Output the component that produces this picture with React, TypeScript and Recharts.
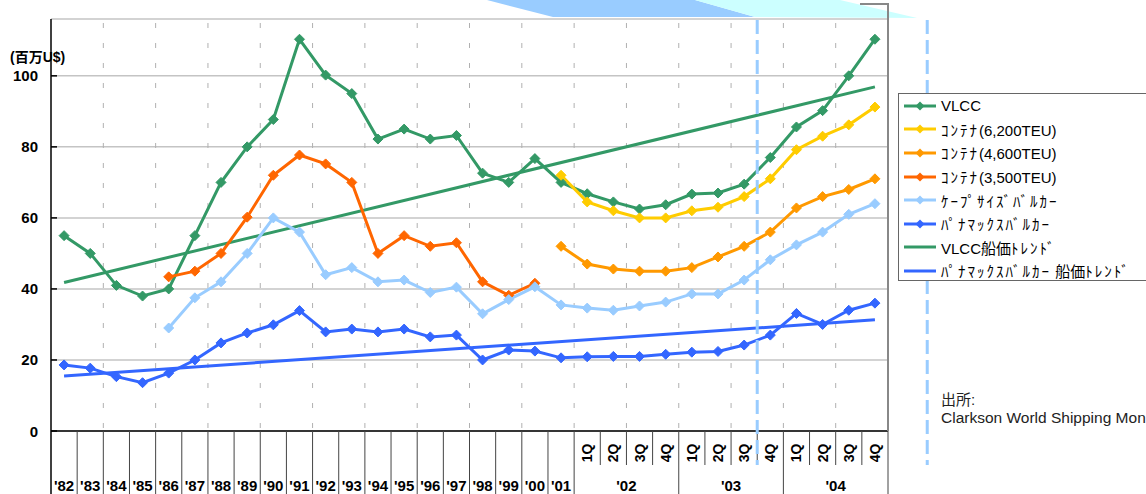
import React from "react";
import { ComposedChart, Line, XAxis, YAxis, CartesianGrid } from "recharts";

// Categories: annual 1982-2001, then quarters 2002-2004
const years = ["'82", "'83", "'84", "'85", "'86", "'87", "'88", "'89", "'90", "'91", "'92", "'93", "'94", "'95", "'96", "'97", "'98", "'99", "'00", "'01"];
const quarterYears = ["'02", "'03", "'04"];
const quarters = ["1Q", "2Q", "3Q", "4Q"];
const yTicks = [0, 20, 40, 60, 80, 100];

// Newbuilding prices (million US$)
const vlcc = [55, 50, 41, 38, 40, 55, 70, 80, 87.7, 110.3, 100.2, 95, 82.2, 85, 82.2, 83.2, 72.6, 70, 76.7, 70, 66.8, 64.5, 62.5, 63.7, 66.7, 67, 69.5, 77, 85.6, 90.2, 100, 110.3];
const cont6200 = [null, null, null, null, null, null, null, null, null, null, null, null, null, null, null, null, null, null, null, 72, 64.5, 62, 60, 60, 62, 63, 66, 71, 79.2, 83, 86.2, 91.2];
const cont4600 = [null, null, null, null, null, null, null, null, null, null, null, null, null, null, null, null, null, null, null, 52, 47, 45.6, 45, 45, 46, 49, 52, 56, 62.8, 66, 68, 71];
const cont3500 = [null, null, null, null, 43.4, 45, 50, 60.2, 72, 77.7, 75.2, 70, 50, 55, 52, 53, 42, 38.2, 41.6, null, null, null, null, null, null, null, null, null, null, null, null, null];
const cape = [null, null, null, null, 29, 37.5, 42, 50, 60, 56, 44, 46, 42, 42.5, 39, 40.5, 33, 37, 40.6, 35.5, 34.6, 34, 35.2, 36.3, 38.6, 38.6, 42.5, 48.2, 52.4, 56, 61, 64];
const panamax = [18.6, 17.7, 15.3, 13.6, 16.3, 20, 24.8, 27.6, 29.9, 33.9, 27.9, 28.7, 27.9, 28.7, 26.5, 27, 20, 22.8, 22.5, 20.6, 20.9, 21, 21, 21.6, 22.2, 22.4, 24.2, 27, 33.1, 30, 34, 36];
// trend lines: end points only
const vlccTrend = [41.8, null, null, null, null, null, null, null, null, null, null, null, null, null, null, null, null, null, null, null, null, null, null, null, null, null, null, null, null, null, null, 96.9];
const panamaxTrend = [15.5, null, null, null, null, null, null, null, null, null, null, null, null, null, null, null, null, null, null, null, null, null, null, null, null, null, null, null, null, null, null, 31.3];

const series = [
  { key: "vlcc", name: "VLCC", color: "#339966", marker: true },
  { key: "cont6200", name: "ｺﾝﾃﾅ(6,200TEU)", color: "#FFCC00", marker: true },
  { key: "cont4600", name: "ｺﾝﾃﾅ(4,600TEU)", color: "#FF9900", marker: true },
  { key: "cont3500", name: "ｺﾝﾃﾅ(3,500TEU)", color: "#FF6600", marker: true },
  { key: "cape", name: "ｹｰﾌﾟｻｲｽﾞﾊﾞﾙｶｰ", color: "#99CCFF", marker: true },
  { key: "panamax", name: "ﾊﾟﾅﾏｯｸｽﾊﾞﾙｶｰ", color: "#3366FF", marker: true },
  { key: "vlccTrend", name: "VLCC船価ﾄﾚﾝﾄﾞ", color: "#339966", marker: false },
  { key: "panamaxTrend", name: "ﾊﾟﾅﾏｯｸｽﾊﾞﾙｶｰ 船価ﾄﾚﾝﾄﾞ", color: "#3366FF", marker: false },
];

const categories = [
  ...years.map((y) => ({ key: y, label: y, group: null as string | null })),
  ...quarterYears.flatMap((g) => quarters.map((q) => ({ key: q + g, label: q, group: g }))),
];

const data = categories.map((c, i) => ({
  cat: c.key,
  vlcc: vlcc[i],
  cont6200: cont6200[i],
  cont4600: cont4600[i],
  cont3500: cont3500[i],
  cape: cape[i],
  panamax: panamax[i],
  vlccTrend: vlccTrend[i],
  panamaxTrend: panamaxTrend[i],
}));

// layout
const W = 1146;
const H = 494;
const PLOT_LEFT = 51;
const PLOT_TOP = 19;
const PLOT_RIGHT = 888;
const X_AXIS_H = 63;
const PLOT_W = PLOT_RIGHT - PLOT_LEFT;
const BAND = PLOT_W / categories.length;
const FONT = "Arial, 'Liberation Sans', 'Noto Sans CJK JP', sans-serif";

function Diamond(props: any) {
  const { cx, cy, stroke } = props;
  if (cx == null || cy == null || isNaN(cy)) return <g />;
  const r = 5;
  return (
    <polygon
      points={`${cx},${cy - r} ${cx + r},${cy} ${cx},${cy + r} ${cx - r},${cy}`}
      fill={stroke}
      stroke={stroke}
    />
  );
}

function XTick(props: any) {
  const { x, y, payload } = props;
  const i = payload.index;
  const c = categories[i];
  const half = BAND / 2;
  const sep = "#444";
  if (!c.group) {
    return (
      <g>
        {i === 0 && <line x1={x - half} y1={y} x2={x - half} y2={H} stroke="#000" strokeWidth={1.5} />}
        <line x1={x + half} y1={y} x2={x + half} y2={H} stroke={sep} strokeWidth={1} />
        <text x={x} y={y + 60} textAnchor="middle" fontSize={15} fontWeight="bold" fill="#000" fontFamily={FONT}>
          {c.label}
        </text>
      </g>
    );
  }
  const last = c.label === "4Q";
  return (
    <g>
      <line x1={x + half} y1={y} x2={x + half} y2={last ? H : y + 34} stroke={sep} strokeWidth={1} />
      <text
        x={x}
        y={y + 22}
        transform={`rotate(-90 ${x} ${y + 22})`}
        textAnchor="middle"
        dominantBaseline="central"
        fontSize={14}
        fontWeight="bold"
        fill="#000"
        fontFamily={FONT}
      >
        {c.label}
      </text>
      {c.label === "2Q" && (
        <text x={x + half} y={y + 60} textAnchor="middle" fontSize={15} fontWeight="bold" fill="#000" fontFamily={FONT}>
          {c.group}
        </text>
      )}
    </g>
  );
}

function YTick(props: any) {
  const { x, y, payload } = props;
  return (
    <g>
      <line x1={PLOT_LEFT} y1={y} x2={PLOT_LEFT + 6} y2={y} stroke="#000" strokeWidth={1.5} />
      <text x={x} y={y} textAnchor="end" dominantBaseline="central" fontSize={15} fontWeight="bold" fill="#000" fontFamily={FONT}>
        {payload.value}
      </text>
    </g>
  );
}

function LegendText({ text }: { text: string }) {
  const parts = text.split(/([\uFF61-\uFF9F]+)/);
  return (
    <>
      {parts.map((p, i) =>
        /[\uFF61-\uFF9F]/.test(p) ? (
          <span key={i} style={{ letterSpacing: "2px" }}>{p}</span>
        ) : (
          <span key={i}>{p}</span>
        )
      )}
    </>
  );
}

function ChartLegend() {
  return (
    <div
      style={{
        position: "absolute",
        left: 898,
        top: 93,
        width: 280,
        height: 188,
        border: "1.5px solid #666",
        background: "#fff",
        fontFamily: FONT,
        fontSize: 15,
        color: "#000",
        paddingTop: 0,
        boxSizing: "border-box",
      }}
    >
      {series.map((s) => (
        <div key={s.key} style={{ height: 23.6, display: "flex", alignItems: "center", whiteSpace: "nowrap" }}>
          <svg width={42} height={12} style={{ flex: "none", marginLeft: 0 }}>
            <line x1={5} y1={6} x2={37} y2={6} stroke={s.color} strokeWidth={3} />
            {s.marker && <polygon points="21,1.5 25.5,6 21,10.5 16.5,6" fill={s.color} />}
          </svg>
          <span>
            <LegendText text={s.name} />
          </span>
        </div>
      ))}
    </div>
  );
}

function Overlay() {
  const d1 = PLOT_LEFT + 27 * BAND;
  const d2 = PLOT_LEFT + 33.5 * BAND;
  return (
    <svg width={W} height={H} style={{ position: "absolute", left: 0, top: 0, pointerEvents: "none" }}>
      <polygon points="487,0 695,0 755,17 553,17" fill="#99CCFF" />
      <polygon points="695,0 840,0 917,18 755,17" fill="#CCFFFF" />
      <polyline points={`860,4 ${PLOT_RIGHT},4 ${PLOT_RIGHT},431`} fill="none" stroke="#888" strokeWidth={2} />
      <line x1={d1} y1={20} x2={d1} y2={465} stroke="#99CCFF" strokeWidth={3} strokeDasharray="14 6" />
      <line x1={d2} y1={20} x2={d2} y2={465} stroke="#99CCFF" strokeWidth={3} strokeDasharray="14 6" />
      <text x={10} y={62} fontSize={14} fontWeight="bold" fill="#000" fontFamily={FONT}>
        (百万U$)
      </text>
      <text x={941} y={405} fontSize={15} fill="#222" fontFamily={FONT}>
        出所:
      </text>
      <text x={941} y={423} fontSize={15.5} fill="#222" fontFamily={FONT}>
        Clarkson World Shipping Monitor
      </text>
    </svg>
  );
}

export default function App() {
  return (
    <div style={{ position: "absolute", left: 0, top: 0, width: W, height: H, overflow: "hidden", background: "#fff" }}>
      <ComposedChart
        width={W}
        height={H}
        data={data}
        margin={{ top: PLOT_TOP, right: W - PLOT_RIGHT, bottom: 0, left: 0 }}
      >
        <CartesianGrid
          stroke="#c4c4c4"
          strokeWidth={1.5}
          vertical={false}
        />
        <CartesianGrid
          stroke="#b0b0b0"
          strokeWidth={1}
          horizontal={false}
          strokeDasharray="0 4 5 11"
          verticalCoordinatesGenerator={({ offset }: any) =>
            Array.from({ length: 15 }, (_, k) => offset.left + (k + 1) * 2 * (offset.width / categories.length))
          }
        />
        <XAxis
          dataKey="cat"
          scale="band"
          interval={0}
          height={X_AXIS_H}
          tickSize={0}
          tickMargin={0}
          tickLine={false}
          axisLine={{ stroke: "#000", strokeWidth: 1.5 }}
          tick={<XTick />}
        />
        <YAxis
          width={PLOT_LEFT}
          domain={[0, 116]}
          ticks={yTicks}
          allowDataOverflow
          tickSize={0}
          tickMargin={13}
          tickLine={false}
          axisLine={{ stroke: "#000", strokeWidth: 1.5 }}
          tick={<YTick />}
        />
        {series
          .filter((s) => !s.marker)
          .map((s) => (
            <Line
              key={s.key}
              type="linear"
              dataKey={s.key}
              stroke={s.color}
              strokeWidth={3}
              dot={false}
              activeDot={false}
              connectNulls
              isAnimationActive={false}
            />
          ))}
        {series
          .filter((s) => s.marker)
          .map((s) => (
            <Line
              key={s.key}
              type="linear"
              dataKey={s.key}
              stroke={s.color}
              strokeWidth={3}
              dot={<Diamond />}
              activeDot={false}
              connectNulls={false}
              isAnimationActive={false}
            />
          ))}
      </ComposedChart>
      <Overlay />
      <ChartLegend />
    </div>
  );
}
